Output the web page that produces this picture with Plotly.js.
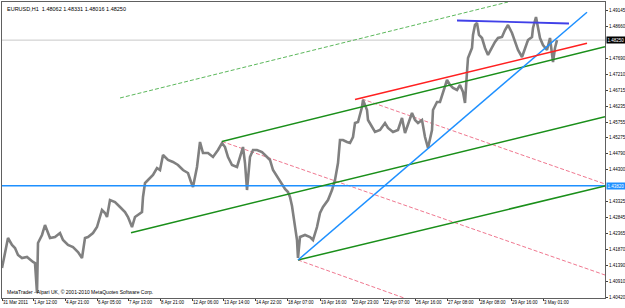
<!DOCTYPE html>
<html><head><meta charset="utf-8">
<script src="https://cdn.plot.ly/plotly-3.0.1.min.js"></script>
<style>html,body{margin:0;padding:0;background:#fff;}#chart{width:625px;height:308px;}</style>
</head><body><div id="chart"></div>
<script>
// bar index (H1 bars from 31 Mar 2011) and sampled EURUSD price
const bars = [0,3,6,10,13,16,20,25,28,31,33,35,36,40,43,45,48,53,58,61,66,71,76,80,83,86,91,95,98,100,103,105,108,113,118,123,126,130,133,136,140,141,143,146,151,155,158,
161,166,171,176,181,186,189,191,195,198,201,206,211,216,220,223,226,230,235,238,241,243,245,248,251,255,260,265,268,271,276,280,283,286,288,290,293,295,296,
298,303,308,311,315,318,321,326,330,333,336,338,341,345,348,351,353,356,360,361,365,366,370,373,378,383,386,391,396,400,403,406,410,413,416,420,423,426,430,431,435,438,
441,445,448,451,455,458,461,463,465,466,468,470,471,473,475,477,480,483,486,490,493,496,500,503,506,510,513,516,520,523,526,530,531,534,536,538,541,545,548,550,551,553,555];
const price = [1.41313,1.41770,1.42226,1.42013,1.41922,1.41709,1.41618,1.41648,1.41557,1.41496,1.41465,1.40552,1.42074,1.42318,1.42622,1.42470,1.42226,1.42257,1.42379,1.42165,1.42013,1.41952,1.41800,1.41618,1.42226,1.42257,1.42379,1.42561,1.42866,1.43079,1.42987,1.42866,1.43383,1.43322,1.43170,1.43018,1.42866,1.42561,1.42866,1.42926,1.43018,1.43474,1.43900,1.43992,1.44144,1.44357,1.44296,
1.44753,1.44601,1.44540,1.44448,1.44296,1.44205,1.43931,1.43779,1.44388,1.45149,1.44814,1.44814,1.44692,1.44905,1.45118,1.44996,1.44692,1.44448,1.44388,1.44692,1.44996,1.44509,1.43687,1.44692,1.44905,1.44905,1.44844,1.44692,1.44601,1.44296,1.44053,1.43870,1.43718,1.43627,1.43474,1.43200,1.42622,1.42165,1.41618,
1.42257,1.42318,1.42257,1.42165,1.42561,1.42987,1.43170,1.43383,1.43687,1.43992,1.44509,1.45209,1.45209,1.45149,1.45118,1.45301,1.45727,1.45757,1.46214,1.46427,1.46123,1.45818,1.45605,1.45453,1.45514,1.45727,1.45575,1.45453,1.45514,1.45879,1.45422,1.45666,1.46031,1.45818,1.45727,1.45818,1.45301,1.44966,1.45514,1.46123,1.46366,1.46366,
1.46640,1.47036,1.46884,1.46792,1.46731,1.46884,1.46671,1.46336,1.47279,1.47706,1.47858,1.48010,1.48406,1.48710,1.48771,1.48406,1.48314,1.48010,1.47797,1.48040,1.48193,1.48314,1.48345,1.48558,1.48710,1.48467,1.48193,1.47949,1.47736,1.48010,1.48253,1.48345,1.48619,1.48954,1.48619,1.48314,1.48101,1.47949,1.48314,1.47797,1.47584,1.48010,1.48250];

const xTickBars = [0,31,63,95,126,158,190,221,253,285,318,350,381,413,445,477,509,541];
const xTickLabels = ["31 Mar 2011","1 Apr 12:00","4 Apr 21:00","6 Apr 05:00","7 Apr 13:00","8 Apr 21:00","12 Apr 06:00","13 Apr 14:00","14 Apr 22:00","18 Apr 07:00","19 Apr 16:00","20 Apr 23:00","22 Apr 07:00","26 Apr 16:00","27 Apr 08:00","28 Apr 08:00","29 Apr 16:00","3 May 01:00"];
const yTickValues = [1.49145,1.48660,1.47690,1.47210,1.46715,1.46235,1.45755,1.45275,1.44790,1.44300,1.43325,1.42845,1.42365,1.41870,1.41390,1.40910,1.40420];

const headerText = "EURUSD,H1  1.48062 1.48331 1.48016 1.48250";
const footerText = "MetaTrader - Alpari UK, \u00a9 2001-2010 MetaQuotes Software Corp.";
const hLinePrice = 1.43820;
const bidPrice = 1.48250;

// trend objects: [startBar, endBar], [startPrice, endPrice]
const greenDashBars = [118, 506];   const greenDashPrices = [1.46488, 1.49410];
const greenUpBars = [220, 603];     const greenUpPrices = [1.45164, 1.48049];
const greenMidBars = [129, 603];    const greenMidPrices = [1.42388, 1.45919];
const greenLowBars = [296, 603];    const greenLowPrices = [1.41557, 1.43809];
const redBars = [353, 585];         const redPrices = [1.46442, 1.48153];
const resistBars = [455, 567];      const resistPrices = [1.48847, 1.48756];
const diagBars = [296, 585];        const diagPrices = [1.41557, 1.49097];
const pink1Bars = [220, 603];       const pink1Prices = [1.45164, 1.41100];
const pink2Bars = [360, 603];       const pink2Prices = [1.46458, 1.43870];
const pink3Bars = [296, 405];       const pink3Prices = [1.41557, 1.40369];

const xRange = [0, 603];
const yRange = [1.40400, 1.49410];

function seg(xs, ys, color, width, dash){
  return {x: xs, y: ys, type:'scatter', mode:'lines', hoverinfo:'skip',
          line:{color: color, width: width, dash: dash || 'solid'}};
}
const traces = [
  seg(xRange, [bidPrice, bidPrice], '#c8c8c8', 1),
  seg(pink1Bars, pink1Prices, '#f07890', 1, '4px,2px'),
  seg(pink2Bars, pink2Prices, '#f07890', 1, '4px,2px'),
  seg(pink3Bars, pink3Prices, '#f07890', 1, '4px,2px'),
  seg(greenDashBars, greenDashPrices, '#5cb85c', 1, '4px,2px'),
  {x: bars, y: price, type:'scatter', mode:'lines', hoverinfo:'skip', line:{color:'#808080', width:2.6}},
  seg(xRange, [hLinePrice, hLinePrice], '#1e90ff', 1.5),
  seg(greenUpBars, greenUpPrices, '#1a8f1a', 1.5),
  seg(greenMidBars, greenMidPrices, '#1a8f1a', 1.5),
  seg(greenLowBars, greenLowPrices, '#1a8f1a', 1.5),
  seg(diagBars, diagPrices, '#1e90ff', 1.5),
  seg(redBars, redPrices, '#ff2020', 1.5),
  seg(resistBars, resistPrices, '#4040e8', 1.8)
];

const fam = 'Liberation Sans, Arial, sans-serif';
const tickFont = {family:fam, size:4.5, color:'#000'};
const layout = {
  width:625, height:308,
  margin:{l:2, r:20, t:2, b:10, pad:0},
  paper_bgcolor:'#fff', plot_bgcolor:'#fff',
  showlegend:false,
  xaxis:{range:xRange, tickvals:xTickBars, ticktext:xTickLabels, tickfont:tickFont, tickangle:0,
         ticklabelposition:'outside right', ticks:'outside', ticklen:2, tickcolor:'#404040',
         showgrid:false, zeroline:false, showline:true, linecolor:'#606060', linewidth:1, mirror:true, fixedrange:true},
  yaxis:{range:yRange, side:'right', tickvals:yTickValues, tickformat:'.5f', tickfont:tickFont,
         ticks:'outside', ticklen:2, tickcolor:'#404040',
         showgrid:false, zeroline:false, showline:true, linecolor:'#606060', linewidth:1, mirror:true, fixedrange:true},
  annotations:[
    {xref:'paper', yref:'paper', x:0, y:1, xanchor:'left', yanchor:'top', xshift:3, yshift:-2,
     text:headerText, showarrow:false, font:{family:fam, size:5.5, color:'#000'}},
    {xref:'paper', yref:'paper', x:0, y:0, xanchor:'left', yanchor:'bottom', xshift:3, yshift:1,
     text:footerText, showarrow:false, font:{family:fam, size:5, color:'#000'}},
    {xref:'paper', yref:'y', x:1, y:bidPrice, xanchor:'left', yanchor:'middle', xshift:1,
     text:bidPrice.toFixed(5), showarrow:false, bgcolor:'#000', borderpad:0.5,
     font:{family:fam, size:4.5, color:'#fff'}},
    {xref:'paper', yref:'y', x:1, y:hLinePrice, xanchor:'left', yanchor:'middle', xshift:1,
     text:hLinePrice.toFixed(5), showarrow:false, bgcolor:'#1e90ff', borderpad:0.5,
     font:{family:fam, size:4.5, color:'#fff'}}
  ]
};
Plotly.newPlot('chart', traces, layout, {staticPlot:true, displayModeBar:false});
</script></body></html>
